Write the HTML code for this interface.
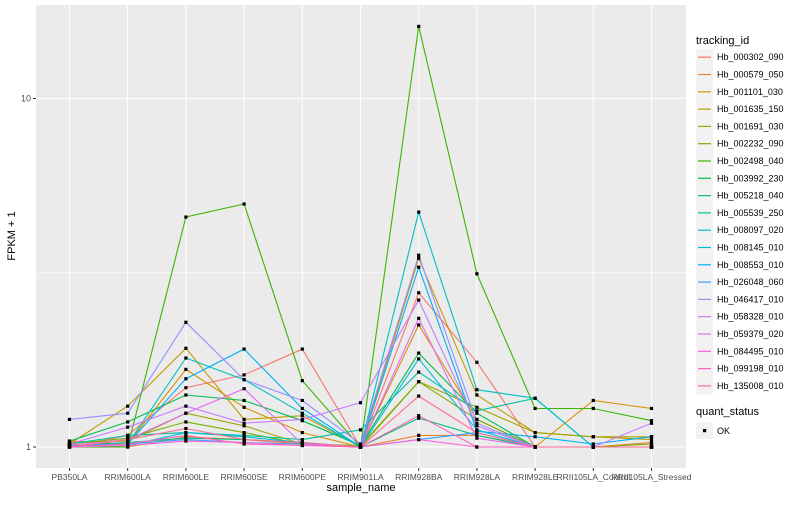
<!DOCTYPE html>
<html><head><meta charset="utf-8"><style>
body{margin:0;background:#fff;font-family:"Liberation Sans",sans-serif}
svg text{font-family:"Liberation Sans",sans-serif}
</style></head><body>
<svg id="c" width="800" height="500" xmlns="http://www.w3.org/2000/svg"></svg>
<script>
const categories=["PB350LA","RRIM600LA","RRIM600LE","RRIM600SE","RRIM600PE","RRIM901LA","RRIM928BA","RRIM928LA","RRIM928LE","RRII105LA_Control","RRII105LA_Stressed"];
const seriesNames=["Hb_000302_090","Hb_000579_050","Hb_001101_030","Hb_001635_150","Hb_001691_030","Hb_002232_090","Hb_002498_040","Hb_003992_230","Hb_005218_040","Hb_005539_250","Hb_008097_020","Hb_008145_010","Hb_008553_010","Hb_026048_060","Hb_046417_010","Hb_058328_010","Hb_059379_020","Hb_084495_010","Hb_099198_010","Hb_135008_010"];
const colors=["#F8766D","#EA8331","#D89000","#C09B00","#A3A500","#7CAE00","#39B600","#00BB4E","#00BF7D","#00C1A3","#00BFC4","#00BAE0","#00B0F6","#35A2FF","#9590FF","#C77CFF","#E76BF3","#FA62DB","#FF62BC","#FF6C91"];
const s000302=[1,1.08,1.48,1.61,1.91,1,2.77,1.75,1,1,1];
const s000579=[1.02,1,1.07,1.05,1.02,1,1.08,1.08,1,1,1.03];
const s001101=[1.04,1.02,1.67,1.3,1.1,1,2.24,1.2,1,1.36,1.29];
const s001635=[1.02,1.31,1.92,1.2,1.23,1,3.48,1.41,1.1,1.07,1.05];
const s001691=[1.03,1.04,1.25,1.15,1.02,1.01,1.54,1.3,1.1,1.07,1.07];
const s002232=[1.02,1.06,1.18,1.1,1.02,1,1.54,1.2,1,1,1.02];
const s002498=[1,1,4.57,4.98,1.55,1,16.1,3.14,1.29,1.29,1.19];
const s003992=[1.04,1.18,1.41,1.36,1.19,1.01,1.86,1.25,1,1,1];
const s005218=[1.01,1.03,1.06,1.05,1.03,1,1.21,1.08,1,1,1];
const s005539=[1.02,1.08,1.1,1.08,1.05,1.12,1.64,1.27,1.38,1,1];
const s008097=[1.01,1.02,1.8,1.56,1.25,1,4.72,1.46,1.38,1,1];
const s008145=[1,1.01,1.1,1.07,1.03,1,1.79,1.12,1,1,1];
const s008553=[1.01,1.02,1.57,1.91,1.29,1,3.28,1.11,1.07,1.02,1.07];
const s026048=[1.01,1.02,1.05,1.03,1.02,1,1.05,1.1,1,1,1];
const s046417=[1.2,1.25,2.28,1.56,1.36,1.02,3.55,1.17,1,1,1];
const s058328=[1.02,1.14,1.31,1.17,1.2,1.34,2.64,1.15,1,1,1.17];
const s059379=[1.01,1.05,1.25,1.47,1.02,1,2.34,1.06,1,1,1];
const s084495=[1,1.01,1.04,1.03,1.01,1,1.05,1,1,1,1];
const s099198=[1,1.02,1.08,1.02,1.01,1,1.23,1,1,1,1];
const s135008=[1,1.05,1.13,1.05,1.03,1,1.4,1.1,1,1,1];
const seriesValues=[s000302,s000579,s001101,s001635,s001691,s002232,s002498,s003992,s005218,s005539,s008097,s008145,s008553,s026048,s046417,s058328,s059379,s084495,s099198,s135008];
const yTicks=[1,10];
const yMinor=[Math.sqrt(10)];

const NS="http://www.w3.org/2000/svg";
const svg=document.getElementById('c');
function mk(t,a,p){const e=document.createElementNS(NS,t);for(const k in a)e.setAttribute(k,a[k]);(p||svg).appendChild(e);return e;}
const L=36,R=686,T=5,B=468;
const x0=69.5,dx=58.2;
function xs(i){return x0+i*dx;}
function ys(v){return 447-348.5*Math.log10(v);}

const panel=mk('rect',{x:L,y:T,width:R-L,height:B-T,fill:'#EBEBEB'});


yMinor.forEach(v=>{mk('line',{x1:L,x2:R,y1:ys(v),y2:ys(v),stroke:'#fff','stroke-width':0.5});});
categories.forEach((c,i)=>{const g=mk('line',{x1:xs(i),x2:xs(i),y1:T,y2:B,stroke:'#fff','stroke-width':1});

});
yTicks.forEach(v=>{const g=mk('line',{x1:L,x2:R,y1:ys(v),y2:ys(v),stroke:'#fff','stroke-width':1});


mk('line',{x1:L-3,x2:L,y1:ys(v),y2:ys(v),stroke:'#333','stroke-width':1});
const t=mk('text',{x:L-5,y:ys(v)+3,'text-anchor':'end','font-size':9,fill:'#4D4D4D'});t.textContent=String(v);

});
categories.forEach((c,i)=>{mk('line',{x1:xs(i),x2:xs(i),y1:B,y2:B+3,stroke:'#333','stroke-width':1});
const t=mk('text',{x:xs(i),y:B+12,'text-anchor':'middle','font-size':8.5,fill:'#4D4D4D'});t.textContent=c;

});

seriesValues.forEach((vals,si)=>{
 const d=vals.map((v,i)=>(i?'L':'M')+xs(i).toFixed(1)+','+ys(v).toFixed(1)).join(' ');
 const p=mk('path',{d:d,fill:'none',stroke:colors[si],'stroke-width':1.1});
 
 
});
seriesValues.forEach((vals,si)=>{vals.forEach((v,i)=>{
 const r=mk('rect',{x:xs(i)-1.6,y:ys(v)-1.6,width:3.2,height:3.2,fill:'#000'});
 
 
});});

const xt=mk('text',{x:(L+R)/2,y:491,'text-anchor':'middle','font-size':11,fill:'#000'});xt.textContent='sample_name';


const yt=mk('text',{x:15,y:236,'text-anchor':'middle','font-size':11,fill:'#000',transform:'rotate(-90 15 236)'});yt.textContent='FPKM + 1';



const lt=mk('text',{x:696,y:44,'font-size':11,fill:'#000'});lt.textContent='tracking_id';


seriesNames.forEach((n,i)=>{const cy=56.7+i*17.3;
 const g=mk('g',{});
 
 
 mk('rect',{x:696,y:cy-8,width:17,height:17,fill:'#F2F2F2'},g);
 mk('line',{x1:698,x2:711,y1:cy+0.5,y2:cy+0.5,stroke:colors[i],'stroke-width':1.2},g);
 const t=mk('text',{x:717,y:cy+3.5,'font-size':9,fill:'#000'},g);t.textContent=n;});
const qt=mk('text',{x:696,y:415,'font-size':11,fill:'#000'});qt.textContent='quant_status';


const qg=mk('g',{});


mk('rect',{x:696,y:422,width:17,height:17,fill:'#F2F2F2'},qg);
mk('rect',{x:703,y:429,width:3.2,height:3.2,fill:'#000'},qg);
const ok=mk('text',{x:717,y:434,'font-size':9,fill:'#000'},qg);ok.textContent='OK';
</script>
</body></html>
